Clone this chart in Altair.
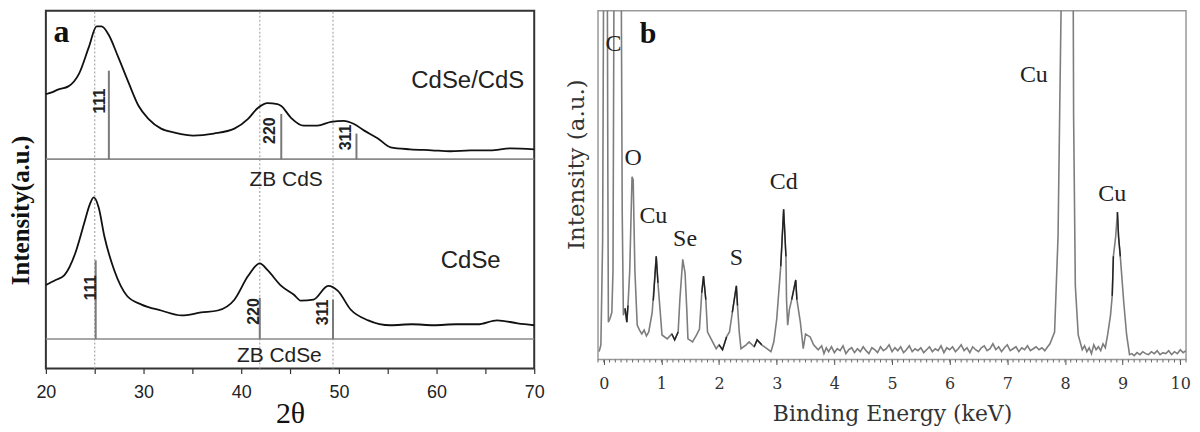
import altair as alt
import pandas as pd

# ---------------- Panel a : XRD ----------------
top_theta = [20.0, 20.6, 21.3, 22.3, 23.4, 24.4, 25.2, 25.7, 26.4, 27.4, 28.5, 29.5, 30.5, 31.8, 33.2,
             35.1, 37.2, 39.3, 40.7, 41.7, 42.7, 43.7, 44.1, 45.1, 46.4, 47.8, 49.2, 50.5, 51.5, 52.6,
             54.0, 55.3, 57.3, 59.5, 61.4, 63.5, 65.5, 67.6, 70.0]
top_int = [279, 281, 284, 287, 300, 327, 348, 348, 340, 317, 290, 267, 254, 244, 240,
           237, 239, 244, 254, 265, 270, 269, 267, 255, 247, 247, 251, 252, 249, 242,
           234, 225, 223, 222, 221, 222, 222, 224, 223]

bot_theta = [20.0, 21.0, 21.9, 23.0, 23.9, 24.5, 24.9, 25.4, 26.0, 27.0, 28.3, 29.8, 31.8, 33.9, 35.9,
             37.6, 39.3, 40.7, 41.9, 42.7, 44.1, 45.4, 46.1, 47.4, 48.9, 49.9, 51.2, 53.0, 55.3, 57.5,
             59.7, 62.0, 64.2, 66.2, 68.3, 70.0]
bot_int = [85, 90, 95, 117, 147, 167, 174, 164, 134, 100, 74, 65, 59, 54, 57,
           59, 70, 94, 107, 100, 84, 75, 69, 70, 84, 79, 60, 49, 44, 45,
           44, 45, 45, 49, 46, 44]

guide_theta = [25.0, 41.9, 49.4]

stick_theta = [26.45, 44.1, 51.8, 25.1, 41.9, 49.4]
stick_base = [213, 213, 213, 30, 30, 30]
stick_top = [303, 259, 239, 110, 72, 70]

stick_lab_theta = [25.5, 43.0, 50.7, 24.6, 41.3, 48.4]
stick_lab_int = [272, 242, 235, 82, 58, 57]
stick_lab_text = ["111", "220", "311", "111", "220", "311"]

base_levels = [213, 30]

a_lab_theta = [63.2, 63.5, 44.6, 43.9]
a_lab_int = [292, 109, 192, 13]
a_lab_text = ["CdSe/CdS", "CdSe", "ZB CdS", "ZB CdSe"]
a_lab_size = [24, 24, 21, 21]

xa_ticks = [20, 25, 30, 35, 40, 45, 50, 55, 60, 65, 70]

# ---------------- Panel b : EDS ----------------
eds_kev = [-0.08, -0.05, -0.02, 0.0, 0.06, 0.07, 0.08, 0.11, 0.14, 0.16, 0.18, 0.30, 0.32, 0.34, 0.37,
           0.40, 0.42, 0.45, 0.49, 0.51, 0.54, 0.58, 0.62, 0.66, 0.70, 0.74, 0.78, 0.84, 0.91, 0.94,
           0.98, 1.01, 1.10, 1.18, 1.23, 1.29, 1.32, 1.37, 1.41, 1.44, 1.46, 1.54, 1.61, 1.66, 1.70,
           1.73, 1.77, 1.80, 1.87, 1.95, 2.00, 2.06, 2.13, 2.18, 2.23, 2.30, 2.32, 2.35, 2.38, 2.47,
           2.52, 2.61, 2.66, 2.74, 2.83, 2.90, 2.95, 3.00, 3.07, 3.12, 3.16, 3.17, 3.19, 3.22, 3.26,
           3.33, 3.35, 3.41, 3.46, 3.50, 3.58, 3.64,
           3.72, 3.78, 3.82, 3.86, 3.90, 3.95, 4.00, 4.05, 4.10, 4.15, 4.20, 4.25, 4.30, 4.35, 4.40,
           4.45, 4.50, 4.55, 4.60, 4.65, 4.70, 4.75, 4.80, 4.85, 4.90, 4.95, 5.00, 5.05, 5.10, 5.15,
           5.20, 5.25, 5.30, 5.35, 5.40, 5.45, 5.50, 5.55, 5.60, 5.65, 5.70, 5.75, 5.80, 5.85, 5.90,
           5.95, 6.00, 6.05, 6.10, 6.15, 6.20, 6.25, 6.30, 6.35, 6.40, 6.45, 6.50, 6.55, 6.60, 6.65,
           6.70, 6.75, 6.80, 6.85, 6.90, 6.95, 7.00, 7.05, 7.10, 7.15, 7.20, 7.25, 7.30, 7.35, 7.40,
           7.45, 7.50, 7.55, 7.60, 7.65, 7.70, 7.74, 7.82, 7.88, 7.91, 7.95, 8.14, 8.15, 8.18, 8.23,
           8.30, 8.34, 8.38, 8.42, 8.46, 8.50, 8.54, 8.58, 8.62, 8.66, 8.70, 8.74, 8.79, 8.82, 8.84,
           8.88, 8.91, 8.93, 8.96, 9.02, 9.07, 9.12, 9.16, 9.20, 9.25, 9.30, 9.35, 9.40, 9.45, 9.50,
           9.55, 9.60, 9.65, 9.70, 9.75, 9.80, 9.85, 9.90, 9.95, 10.00, 10.05, 10.10]
eds_int = [8, 15, 120, 430, 430, 200, 38, 42, 48, 90, 430, 430, 150, 45, 52,
           38, 55, 90, 186, 183, 90, 35, 30, 26, 30, 24, 28, 48, 105, 78,
           48, 25, 21, 26, 20, 28, 61, 102, 88, 51, 21, 18, 25, 31, 68,
           85, 61, 28, 20, 11, 15, 10, 23, 28, 48, 75, 55, 28, 11, 15,
           18, 13, 20, 15, 11, 8, 18, 41, 95, 153, 105, 61, 35, 51, 61,
           81, 61, 38, 11, 26, 23, 15,
           10, 14, 6, 12, 8, 13, 7, 11, 9, 14, 6, 10, 12, 7, 11,
           8, 13, 9, 6, 12, 10, 7, 13, 9, 11, 15, 8, 12, 9, 13,
           7, 10, 14, 8, 11, 9, 12, 7, 10, 13, 8, 11, 9, 14, 7,
           12, 10, 13, 8, 11, 15, 9, 12, 7, 13, 10, 8, 12, 14, 9,
           11, 16, 10, 13, 8, 12, 15, 9, 11, 13, 8, 12, 10, 14, 9,
           11, 13, 10, 12, 9, 13, 16, 28, 125, 258, 430, 430, 248, 75, 25,
           10, 14, 8, 12, 6, 15, 10, 13, 9, 16, 12, 25, 45, 65, 105,
           125, 150, 125, 105, 58, 25, 5, 6, 4, 7, 5, 8, 6, 5, 8,
           6, 9, 5, 7, 6, 9, 5, 8, 6, 10, 7, 9]

# darker overprinted bits of the spectrum
dark_kev = [0.37, 0.40, 0.42, 0.86, 0.91, 0.94, 1.70, 1.73, 1.77, 2.23, 2.30, 2.32,
            3.07, 3.12, 3.16, 3.26, 3.33, 3.35, 8.82, 8.84, 8.91, 8.93, 8.96,
            1.18, 1.23, 1.29, 2.00, 2.06, 2.13, 2.61, 2.66, 2.74]
dark_int = [52, 38, 55, 60, 105, 78, 68, 85, 61, 48, 75, 55,
            95, 153, 105, 61, 81, 61, 65, 105, 150, 125, 105,
            26, 20, 28, 15, 10, 23, 13, 20, 15]
dark_seg = [1, 1, 1, 2, 2, 2, 3, 3, 3, 4, 4, 4,
            5, 5, 5, 6, 6, 6, 7, 7, 8, 8, 8,
            9, 9, 9, 10, 10, 10, 11, 11, 11]

b_lab_kev = [0.17, 0.51, 0.86, 1.41, 2.30, 3.12, 7.46, 8.82]
b_lab_int = [321, 205, 146, 123, 103, 181, 290, 168]
b_lab_text = ["C", "O", "Cu", "Se", "S", "Cd", "Cu", "Cu"]

xb_ticks = [0, 1, 2, 3, 4, 5, 6, 7, 8, 9, 10]
xb_minor = [round(-0.1 + 0.1 * i, 1) for i in range(103)]

# ---------------- build panel a ----------------
xa = alt.X("x:Q", scale=alt.Scale(domain=[20, 70], nice=False, zero=False),
           axis=alt.Axis(values=xa_ticks, labelExpr="datum.value % 10 == 0 ? datum.label : ''",
                         tickSize=5, tickColor="#333", tickWidth=1.2, domain=False, grid=False,
                         labelFont="Liberation Sans", labelFontSize=18, labelColor="#222",
                         labelPadding=10, labelFlush=False,
                         title="2θ", titleFont="Liberation Serif", titleFontSize=30,
                         titleFontWeight="normal", titleColor="#111", titlePadding=-3))
ya = alt.Y("y:Q", scale=alt.Scale(domain=[0, 364], nice=False, zero=False),
           axis=alt.Axis(title="Intensity(a.u.)", titleFont="Liberation Serif", titleFontSize=25,
                         titleFontWeight="bold", titleColor="#111", ticks=False, labels=False,
                         domain=False, grid=False, titlePadding=12, titleY=200))

df_top = pd.DataFrame({"x": top_theta, "y": top_int})
df_bot = pd.DataFrame({"x": bot_theta, "y": bot_int})
df_guide = pd.DataFrame({"x": guide_theta, "y": [0] * 3, "y2": [364] * 3})
df_stick = pd.DataFrame({"x": stick_theta, "y": stick_base, "y2": stick_top})
df_slab = pd.DataFrame({"x": stick_lab_theta, "y": stick_lab_int, "t": stick_lab_text})
df_base = pd.DataFrame({"y": base_levels, "x": [20] * 2, "x2": [70] * 2})
df_alab = pd.DataFrame({"x": a_lab_theta, "y": a_lab_int, "t": a_lab_text, "s": a_lab_size})

guides = alt.Chart(df_guide).mark_rule(color="#aaaaaa", strokeDash=[2, 2], strokeWidth=1.2).encode(
    x=xa, y=ya, y2="y2:Q")
bases = alt.Chart(df_base).mark_rule(color="#8a8a8a", strokeWidth=1.6).encode(x=xa, x2="x2:Q", y=ya)
sticks = alt.Chart(df_stick).mark_rule(color="#7a7a7a", strokeWidth=2).encode(x=xa, y=ya, y2="y2:Q")
line_top = alt.Chart(df_top).mark_line(color="#111", strokeWidth=1.8, interpolate="monotone").encode(x=xa, y=ya)
line_bot = alt.Chart(df_bot).mark_line(color="#111", strokeWidth=1.8, interpolate="monotone").encode(x=xa, y=ya)
slabels = alt.Chart(df_slab).mark_text(angle=270, font="Liberation Sans", fontSize=16,
                                       fontWeight="bold", color="#222").encode(x=xa, y=ya, text="t:N")
alabels = alt.Chart(df_alab).mark_text(font="Liberation Sans", color="#222").encode(
    x=xa, y=ya, text="t:N", size=alt.Size("s:Q", scale=None, legend=None))
a_letter = alt.Chart(pd.DataFrame({"x": [21.6], "y": [342], "t": ["a"]})).mark_text(
    font="Liberation Serif", fontSize=32, fontWeight="bold", color="#111").encode(x=xa, y=ya, text="t:N")

panel_a = alt.layer(guides, bases, sticks, line_top, line_bot, slabels, alabels, a_letter).properties(
    width=490, height=359, view=alt.ViewBackground(stroke="#333", strokeWidth=2))

# ---------------- build panel b ----------------
xb = alt.X("x:Q", scale=alt.Scale(domain=[-0.1, 10.1], nice=False, zero=False),
           axis=alt.Axis(values=xb_ticks, tickSize=5, tickColor="#555", domain=False, grid=False,
                         labelFont="DejaVu Serif", labelFontSize=16, labelColor="#333",
                         labelPadding=11, labelFlush=False,
                         title="Binding Energy (keV)", titleFont="DejaVu Serif", titleFontSize=22,
                         titleFontWeight="normal", titleColor="#333", titlePadding=12))
yb = alt.Y("y:Q", scale=alt.Scale(domain=[0, 355], nice=False, zero=False),
           axis=alt.Axis(title="Intensity (a.u.)", titleFont="DejaVu Serif", titleFontSize=23,
                         titleFontWeight="normal", titleColor="#333", ticks=False, labels=False,
                         domain=False, grid=False, titlePadding=10, titleY=154))

df_eds = pd.DataFrame({"x": eds_kev, "y": eds_int})
df_dark = pd.DataFrame({"x": dark_kev, "y": dark_int, "seg": dark_seg})
df_minor = pd.DataFrame({"x": xb_minor, "y": [0] * len(xb_minor), "y2": [-3] * len(xb_minor)})
df_blab = pd.DataFrame({"x": b_lab_kev, "y": b_lab_int, "t": b_lab_text})

eds_line = alt.Chart(df_eds).mark_line(color="#7d7d7d", strokeWidth=1.6, clip=True).encode(x=xb, y=yb)
dark_line = alt.Chart(df_dark).mark_line(color="#222", strokeWidth=1.4, clip=True).encode(
    x=xb, y=yb, detail="seg:N")
minor = alt.Chart(df_minor).mark_rule(color="#666", strokeWidth=1).encode(x=xb, y=yb, y2="y2:Q")
blabels = alt.Chart(df_blab).mark_text(font="Liberation Serif", fontSize=24, color="#222").encode(
    x=xb, y=yb, text="t:N")
b_letter = alt.Chart(pd.DataFrame({"x": [0.77], "y": [331], "t": ["b"]})).mark_text(
    font="Liberation Serif", fontSize=30, fontWeight="bold", color="#111").encode(x=xb, y=yb, text="t:N")

panel_b = alt.layer(minor, eds_line, dark_line, blabels, b_letter).properties(
    width=590, height=350, view=alt.ViewBackground(stroke="#999", strokeWidth=1.5))

chart = alt.hconcat(panel_a, panel_b, spacing=18).properties(
    padding={"left": 0, "top": 0, "right": 0, "bottom": 0}
).configure(background="white")

chart.save("out.html", embed_options={"renderer": "svg", "actions": False})
